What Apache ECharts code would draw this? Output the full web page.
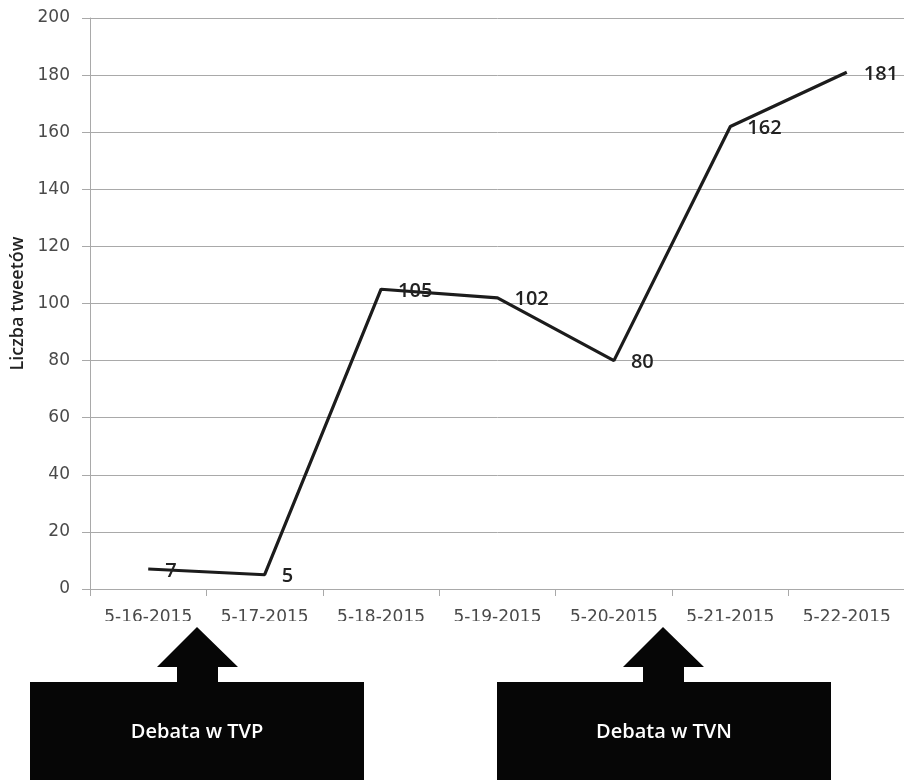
<!DOCTYPE html>
<html>
<head>
<meta charset="utf-8">
<script src="https://cdn.jsdelivr.net/npm/echarts@6/dist/echarts.min.js"></script>
<style>
  html, body { margin: 0; padding: 0; background: #fff; }
  #chart { width: 904px; height: 780px; }
</style>
</head>
<body>
<div id="chart"></div>
<script>
// Daily tweet counts around the two presidential debates
const days = ['5-16-2015', '5-17-2015', '5-18-2015', '5-19-2015', '5-20-2015', '5-21-2015', '5-22-2015'];
const tweets = [7, 5, 105, 102, 80, 162, 181];
const yTicks = { min: 0, max: 200, step: 20 };
const yTitle = 'Liczba tweetów';
const events = ['Debata w TVP', 'Debata w TVN'];

const chart = echarts.init(document.getElementById('chart'), null, { renderer: 'canvas' });

const axisFont = 'DejaVu Sans, sans-serif';
const gridColor = '#a9a9a9';

// up arrow with a label box underneath
function eventMarker(tipX, boxLeft, boxRight, text) {
  return [
    {
      type: 'polygon', z: 110,
      shape: { points: [[tipX, 627], [tipX + 41, 667], [tipX + 21, 667], [tipX + 21, 683],
                        [tipX - 20, 683], [tipX - 20, 667], [tipX - 40, 667]] },
      style: { fill: '#060606' }
    },
    {
      type: 'rect', z: 110,
      shape: { x: boxLeft, y: 682, width: boxRight - boxLeft, height: 100 },
      style: { fill: '#060606' }
    },
    {
      type: 'text', z: 111,
      style: {
        x: (boxLeft + boxRight) / 2, y: 732, text: text,
        fill: '#ffffff', font: '600 20px "Open Sans", sans-serif',
        align: 'center', verticalAlign: 'middle'
      }
    }
  ];
}

chart.setOption({
  backgroundColor: '#ffffff',
  animation: false,
  grid: { left: 90, top: 18, width: 815, height: 571, containLabel: false, outerBoundsMode: 'none' },
  xAxis: {
    type: 'category',
    data: days,
    boundaryGap: true,
    axisLine: { show: true, lineStyle: { color: gridColor, width: 1 } },
    axisTick: { show: true, alignWithLabel: false, length: 7, lineStyle: { color: gridColor } },
    axisLabel: { color: '#4a4a4a', fontFamily: axisFont, fontSize: 17, margin: 20, interval: 0 },
    splitLine: { show: false }
  },
  yAxis: {
    type: 'value',
    min: yTicks.min, max: yTicks.max, interval: yTicks.step,
    name: yTitle,
    nameLocation: 'middle',
    nameRotate: 90,
    nameGap: 63,
    nameTextStyle: { color: '#222', fontFamily: '"Open Sans", sans-serif', fontWeight: 600, fontSize: 18 },
    axisLine: { show: true, lineStyle: { color: gridColor, width: 1 } },
    axisTick: { show: true, length: 8, lineStyle: { color: gridColor } },
    axisLabel: { color: '#4a4a4a', fontFamily: axisFont, fontSize: 17, margin: 20 },
    splitLine: { show: true, lineStyle: { color: gridColor, width: 1 } }
  },
  series: [{
    type: 'line',
    data: tweets,
    showSymbol: true,
    symbol: 'circle',
    symbolSize: 2,
    itemStyle: { color: 'rgba(0,0,0,0)' },
    lineStyle: { color: '#1c1c1c', width: 3.2 },
    label: {
      show: true,
      position: 'right',
      distance: 16,
      offset: [0, 2],
      color: '#222',
      fontFamily: '"Open Sans", sans-serif',
      fontWeight: 600,
      fontSize: 20
    },
    z: 3
  }],
  graphic: [
    // hides the lower edge of the date labels, as in the original slide
    { type: 'rect', z: 100, shape: { x: 0, y: 621, width: 904, height: 60 }, style: { fill: '#ffffff' } },
    ...eventMarker(197, 30, 364, events[0]),
    ...eventMarker(663, 497, 831, events[1])
  ]
});
</script>
</body>
</html>
